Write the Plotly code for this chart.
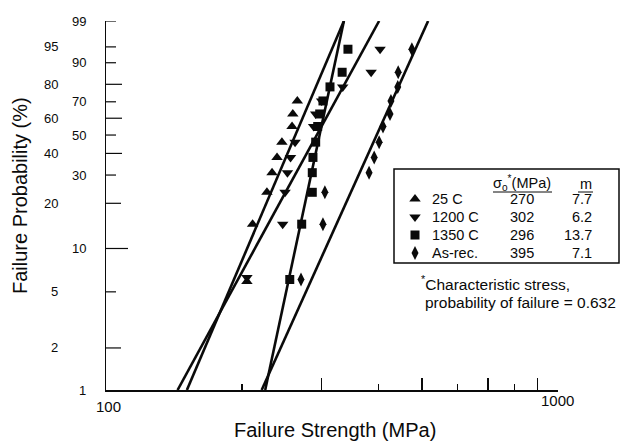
import numpy as np
import plotly.graph_objects as go

# ---------------- data ----------------
prob_25C = [5.9, 14.6, 23.5, 31, 38, 46, 55, 62.6, 70.5]
stress_25C = [205, 211, 227, 233, 239, 245, 258, 259, 265]

prob_1200C = [6.3, 14.6, 23.5, 31, 38, 46, 55, 62.6, 70.5, 78.6, 86, 94.4]
stress_1200C = [205, 246, 249, 252, 256, 262, 288, 291, 300, 334, 386, 404]

prob_1350C = [6.1, 14.6, 23.5, 31, 38, 46, 55, 62.6, 70.5, 78.6, 86, 94.4]
stress_1350C = [255, 271, 286, 286, 287, 291, 294, 297, 302, 313, 333, 343]

prob_asrec = [6.1, 14.6, 23.5, 31, 38, 46, 55, 62.6, 70.5, 78.6, 86, 94.4]
stress_asrec = [270, 302, 305, 382, 392, 402, 410, 425, 427, 442, 443, 475]

# fitted Weibull lines: strength at 1 % and 99 % failure probability
fit_prob = [1, 99]
fit_25C = [151, 336]
fit_1200C = [144, 402]
fit_1350C = [225, 336]
fit_asrec = [221, 516]

# legend table
series_names = ["25 C", "1200 C", "1350 C", "As-rec."]
char_stress = [270, 302, 296, 395]
weibull_m = ["7.7", "6.2", "13.7", "7.1"]

# axis ticks
y_tick_pcts = [99, 95, 90, 80, 70, 60, 50, 40, 30, 20, 10, 5, 2, 1]
x_tick_labels = [100, 1000]
x_major_ticks = [300, 500, 700, 900, 1000]
x_minor_ticks = [200, 400, 600, 800]

# ---------------- helpers ----------------
def W(p):
    p = np.asarray(p, dtype=float) / 100.0
    return np.log(-np.log(1.0 - p))

L, R, T, B = 106, 63, 21, 55
WIDTH, HEIGHT = 621, 445
PW, PH = WIDTH - L - R, HEIGHT - T - B

def px(x):
    return (x - L) / PW

def py(y):
    return (HEIGHT - B - y) / PH

FONT = "Liberation Sans, Arial, Helvetica, sans-serif"
INK = "#0a0a0a"

fig = go.Figure()

# fit lines
for f in [fit_25C, fit_1200C, fit_1350C, fit_asrec]:
    fig.add_trace(go.Scatter(x=f, y=W(fit_prob), mode="lines",
                             line=dict(color=INK, width=2.6),
                             showlegend=False, hoverinfo="skip"))

series = [
    (stress_25C, prob_25C, "triangle-up", 10),
    (stress_1200C, prob_1200C, "triangle-down", 10),
    (stress_1350C, prob_1350C, "square", 9),
    (stress_asrec, prob_asrec, "diamond-tall", 10),
]
for (s, p, sym, size), name in zip(series, series_names):
    fig.add_trace(go.Scatter(x=s, y=W(p), mode="markers", name=name,
                             marker=dict(symbol=sym, size=size, color=INK,
                                         line=dict(width=0)),
                             showlegend=False, cliponaxis=False))

# legend-table markers on an overlay axis in paper-like units
row_y = [199, 217, 235, 253]
for (s, p, sym, size), ry in zip(series, row_y):
    fig.add_trace(go.Scatter(x=[px(415)], y=[py(ry)], mode="markers",
                             xaxis="x2", yaxis="y2",
                             marker=dict(symbol=sym, size=size, color=INK,
                                         line=dict(width=0)),
                             showlegend=False, hoverinfo="skip",
                             cliponaxis=False))

shapes = []
annotations = []

# y-axis ticks (inside, varying length) + staggered labels
tick_len = {99: 10, 95: 10, 90: 10, 80: 16, 70: 10, 60: 16, 50: 10, 40: 16,
            30: 10, 20: 15, 10: 22, 5: 10, 2: 15, 1: 0}
right_col = {99, 90, 70, 50, 30, 10, 1}
for pct in y_tick_pcts:
    yv = float(W(pct))
    if tick_len[pct] > 0:
        shapes.append(dict(type="line", xref="paper", yref="y",
                           x0=0, x1=tick_len[pct] / PW, y0=yv, y1=yv,
                           line=dict(color=INK, width=1.2)))
    xr = px(88) if pct in right_col else px(60)
    annotations.append(dict(text=str(pct), xref="paper", yref="y",
                            x=xr, y=yv, xanchor="right", yanchor="middle",
                            showarrow=False,
                            font=dict(family=FONT, size=13, color=INK)))

# x labels
annotations.append(dict(text=str(x_tick_labels[0]), xref="paper", yref="paper",
                        x=px(108), y=py(407), xanchor="center", yanchor="middle",
                        showarrow=False, font=dict(family=FONT, size=15, color=INK)))
annotations.append(dict(text=str(x_tick_labels[1]), xref="paper", yref="paper",
                        x=px(557), y=py(400), xanchor="center", yanchor="middle",
                        showarrow=False, font=dict(family=FONT, size=15, color=INK)))

# axis titles
annotations.append(dict(text="Failure Strength (MPa)", xref="paper", yref="paper",
                        x=px(335), y=py(430), xanchor="center", yanchor="middle",
                        showarrow=False, font=dict(family=FONT, size=20, color=INK)))
annotations.append(dict(text="Failure Probability (%)", xref="paper", yref="paper",
                        x=px(20), y=py(196), xanchor="center", yanchor="middle",
                        textangle=-90, showarrow=False,
                        font=dict(family=FONT, size=20, color=INK)))

# legend box
shapes.append(dict(type="rect", xref="paper", yref="paper",
                   x0=px(394), x1=px(619), y0=py(263), y1=py(169),
                   line=dict(color=INK, width=1.5), fillcolor="white", layer="below"))
# underlines
shapes.append(dict(type="line", xref="paper", yref="paper",
                   x0=px(493), x1=px(552), y0=py(192), y1=py(192),
                   line=dict(color=INK, width=1)))
shapes.append(dict(type="line", xref="paper", yref="paper",
                   x0=px(578), x1=px(593), y0=py(192), y1=py(192),
                   line=dict(color=INK, width=1)))

LF = dict(family=FONT, size=14.5, color=INK)
annotations.append(dict(text="σ<sub>o</sub><sup>*</sup>(MPa)", xref="paper", yref="paper",
                        x=px(522), y=py(183), xanchor="center", yanchor="middle",
                        showarrow=False, font=LF))
annotations.append(dict(text="m", xref="paper", yref="paper",
                        x=px(586), y=py(184), xanchor="center", yanchor="middle",
                        showarrow=False, font=LF))
for name, s0, m, ry in zip(series_names, char_stress, weibull_m, row_y):
    annotations.append(dict(text=name, xref="paper", yref="paper",
                            x=px(430), y=py(ry), xanchor="left", yanchor="middle",
                            showarrow=False, font=LF))
    annotations.append(dict(text=str(s0), xref="paper", yref="paper",
                            x=px(522), y=py(ry), xanchor="center", yanchor="middle",
                            showarrow=False, font=LF))
    annotations.append(dict(text=m, xref="paper", yref="paper",
                            x=px(594), y=py(ry), xanchor="right", yanchor="middle",
                            showarrow=False, font=LF))

FF = dict(family=FONT, size=15.5, color=INK)
annotations.append(dict(text="<sup>*</sup>Characteristic stress,", xref="paper", yref="paper",
                        x=px(419), y=py(283), xanchor="left", yanchor="middle",
                        showarrow=False, font=FF))
annotations.append(dict(text="probability of failure = 0.632", xref="paper", yref="paper",
                        x=px(423), y=py(302), xanchor="left", yanchor="middle",
                        showarrow=False, font=FF))

fig.update_layout(
    width=WIDTH, height=HEIGHT, autosize=False,
    margin=dict(l=L, r=R, t=T, b=B, pad=0),
    paper_bgcolor="white", plot_bgcolor="white",
    showlegend=False,
    shapes=shapes, annotations=annotations,
    xaxis=dict(type="log", range=[2, 3], showline=True, linecolor=INK, linewidth=1.5,
               showgrid=False, zeroline=False, ticks="inside", tickvals=x_major_ticks,
               ticklen=12, tickwidth=1.2, tickcolor=INK, showticklabels=False,
               minor=dict(tickvals=x_minor_ticks, ticks="inside", ticklen=6,
                          tickwidth=1.2, tickcolor=INK, showgrid=False)),
    yaxis=dict(range=[float(W(1)), float(W(99))], showline=True, linecolor=INK,
               linewidth=1.5, showgrid=False, zeroline=False, ticks="",
               showticklabels=False),
    xaxis2=dict(overlaying="x", range=[0, 1], visible=False),
    yaxis2=dict(overlaying="y", range=[0, 1], visible=False),
)

fig.write_html(
    "out.html",
    config={"displayModeBar": False, "staticPlot": True},
    post_script="document.body.style.margin='0';document.body.style.padding='0';"
                "document.documentElement.style.overflow='hidden';",
)
